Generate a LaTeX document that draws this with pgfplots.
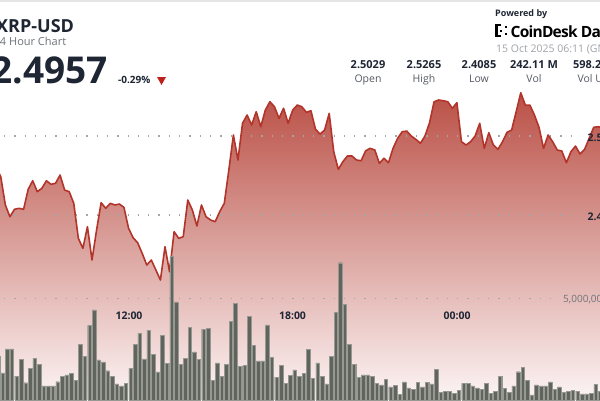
\documentclass[border=0pt]{standalone}
\usepackage{pgfplots}
\pgfplotsset{compat=1.18}
\usepackage{pgfplotstable}
\usepackage{fontspec}
\setmainfont{Open Sans}
\definecolor{navy}{RGB}{30,38,52}
\definecolor{subgray}{RGB}{110,114,120}
\definecolor{dategray}{RGB}{160,163,168}
\definecolor{labgray}{RGB}{85,90,98}
\definecolor{linered}{RGB}{178,52,42}
\definecolor{filltop}{RGB}{186,80,70}
\definecolor{fillbot}{RGB}{252,245,245}
\definecolor{barfill}{RGB}{96,100,92}
\definecolor{baredge}{RGB}{150,152,146}
\definecolor{downred}{RGB}{192,32,28}
\definecolor{dotgray}{RGB}{165,165,165}

\pgfplotstableread{
i price
-29 2.4600
-28 2.4485
-27 2.4127
-26 2.3978
-25 2.4072
-24 2.4085
-23 2.4072
-22 2.4325
-21 2.4434
-20 2.4295
-19 2.4338
-18 2.4434
-17 2.4389
-16 2.4401
-15 2.4506
-14 2.4316
-13 2.4295
-12 2.4148
-11 2.3705
-10 2.3578
-9 2.3852
-8 2.3430
-7 2.3810
-6 2.4156
-5 2.4085
-4 2.4148
-3 2.4127
-2 2.4139
-1 2.4097
0 2.3835
1 2.3713
2 2.3649
3 2.3515
4 2.3367
5 2.3430
6 2.3304
7 2.3177
8 2.3599
9 2.3282
10 2.3789
11 2.3705
12 2.3725
13 2.4190
14 2.4063
15 2.3861
16 2.4127
17 2.3978
18 2.3937
19 2.3915
20 2.4042
21 2.4148
22 2.4570
23 2.5013
24 2.4696
25 2.5161
26 2.5266
27 2.5139
28 2.5308
29 2.5118
30 2.5329
31 2.5434
32 2.5371
33 2.5224
34 2.5351
35 2.5161
36 2.5329
37 2.5392
38 2.5371
39 2.5300
40 2.5320
41 2.5085
42 2.5025
43 2.5076
44 2.5287
45 2.4801
46 2.4578
47 2.4675
48 2.4747
49 2.4747
50 2.4696
51 2.4687
52 2.4814
53 2.4844
54 2.4823
55 2.4654
56 2.4718
57 2.4662
58 2.4844
59 2.4971
60 2.5054
61 2.5063
62 2.5000
63 2.4958
64 2.4908
65 2.5000
66 2.5168
67 2.5434
68 2.5456
69 2.5447
70 2.5434
71 2.5351
72 2.5422
73 2.4928
74 2.4886
75 2.4928
76 2.5000
77 2.5161
78 2.4844
79 2.5042
80 2.4886
81 2.4832
82 2.4928
83 2.5047
84 2.5076
85 2.5308
86 2.5548
87 2.5392
88 2.5392
89 2.5266
90 2.5110
91 2.4844
92 2.5013
93 2.4928
94 2.4823
95 2.4810
96 2.4662
97 2.4801
98 2.4873
99 2.4772
100 2.4832
101 2.4971
102 2.5110
103 2.5118
104 2.5100
}\pricedata

\pgfplotstableread{
i vol
-29 2.16
-28 1.34
-27 2.51
-26 2.51
-25 1.18
-24 2.00
-23 0.85
-22 1.56
-21 2.05
-20 1.76
-19 0.69
-18 0.69
-17 0.69
-16 0.90
-15 1.15
-14 1.23
-13 1.31
-12 0.95
-11 2.74
-10 2.13
-9 3.67
-8 4.43
-7 1.97
-6 1.88
-5 1.44
-4 1.15
-3 0.79
-2 0.69
-1 0.82
0 1.56
1 2.75
2 3.28
3 2.02
4 3.44
5 2.26
6 1.38
7 3.18
8 1.80
9 7.05
10 4.83
11 1.76
12 2.05
13 3.57
14 2.37
15 2.00
16 3.49
17 3.53
18 0.95
19 1.83
20 1.15
21 1.76
22 3.85
23 4.75
24 1.67
25 1.71
26 4.10
27 2.70
28 1.92
29 1.92
30 3.69
31 2.10
32 1.12
33 1.72
34 0.82
35 1.21
36 1.48
37 1.18
38 1.31
39 2.49
40 1.05
41 1.83
42 1.15
43 0.79
44 2.13
45 4.31
46 6.75
47 4.72
48 2.74
49 1.77
50 1.12
51 1.23
52 1.23
53 1.18
54 0.82
55 0.74
56 1.02
57 0.65
58 0.72
59 0.28
60 0.89
61 0.60
62 0.53
63 0.87
64 0.65
65 0.87
66 0.79
67 1.51
68 0.38
69 0.41
70 0.44
71 0.33
72 0.49
73 0.82
74 0.82
75 0.69
76 0.60
77 0.53
78 0.82
79 0.33
80 0.41
81 1.15
82 0.58
83 0.39
84 0.69
85 1.39
86 1.59
87 0.95
88 0.25
89 0.74
90 0.69
91 0.70
92 0.89
93 0.53
94 0.65
95 0.36
96 0.44
97 0.48
98 0.44
99 0.30
100 0.30
101 0.33
102 0.77
103 0.44
}\voldata

\begin{document}
\begin{tikzpicture}[x=1bp,y=1bp]
\useasboundingbox (0,0) rectangle (600,400);
\clip (0,0) rectangle (600,400);
\fill[white] (0,0) rectangle (600,400);

% price axis
\begin{axis}[at={(0,0)}, anchor=south west, scale only axis,
  width=600bp, height=400bp, hide axis,
  xmin=-28.174, xmax=103.377, ymin=2.1658, ymax=2.6722, clip=true]
\addplot[draw=none, top color=filltop, bottom color=fillbot] table[x=i,y=price] {\pricedata} \closedcycle;
\draw[dotgray, line width=1.3bp, dash pattern=on 1.3bp off 9bp] (axis cs:-27.3,2.5) -- (axis cs:99.0,2.5);
\draw[dotgray, line width=1.3bp, dash pattern=on 1.3bp off 9bp] (axis cs:-27.3,2.4) -- (axis cs:99.0,2.4);
\addplot[linered, line width=1.6bp, line join=round] table[x=i,y=price] {\pricedata};
\end{axis}

% volume axis
\begin{axis}[at={(0,0)}, anchor=south west, scale only axis,
  width=600bp, height=400bp, hide axis,
  xmin=-28.174, xmax=103.377, ymin=0, ymax=19.666, clip=true]
\draw[dotgray, line width=1.3bp, dash pattern=on 1.3bp off 9bp] (axis cs:-27.3,5) -- (axis cs:92.9,5);
\addplot[ybar, bar width=3.5bp, bar shift=2bp, fill=barfill, draw=baredge, line width=0.4bp] table[x=i,y=vol] {\voldata};
\end{axis}

% axis labels
\node[anchor=base west, inner sep=0, text=navy, font=\fontsize{10.5bp}{12bp}\selectfont\bfseries] at (587.5,259) {2.50};
\node[anchor=base west, inner sep=0, text=navy, font=\fontsize{10.5bp}{12bp}\selectfont\bfseries] at (587.5,180) {2.40};
\node[anchor=base west, inner sep=0, text=subgray, font=\fontsize{10bp}{12bp}\selectfont] at (563,98) {5,000,000};
\node[anchor=base, inner sep=0, text=navy, font=\fontsize{10.5bp}{12bp}\selectfont\bfseries] at (129,80.7) {12:00};
\node[anchor=base, inner sep=0, text=navy, font=\fontsize{10.5bp}{12bp}\selectfont\bfseries] at (292.5,80.7) {18:00};
\node[anchor=base, inner sep=0, text=navy, font=\fontsize{10.5bp}{12bp}\selectfont\bfseries] at (457,80.7) {00:00};

% header
\fill[black!10] (0,397.5) rectangle (600,400);
\node[anchor=base west, inner sep=0, text=navy, font=\fontsize{18bp}{20bp}\selectfont\bfseries] at (-4,368) {XRP-USD};
\node[anchor=base west, inner sep=0, text=subgray, font=\fontsize{11bp}{13bp}\selectfont] at (-6.5,355) {24 Hour Chart};
\node[anchor=base east, inner sep=0, text=navy, font=\fontsize{37bp}{40bp}\selectfont\bfseries] at (108,317) {2.4957};
\node[anchor=base west, inner sep=0, text=navy, font=\fontsize{10bp}{12bp}\selectfont\bfseries] at (118,317) {-0.29\%};
\fill[downred] (157,323) -- (166,323) -- (161.5,315) -- cycle;

\node[anchor=base west, inner sep=0, text=navy, font=\fontsize{9bp}{11bp}\selectfont\bfseries] at (495,384) {Powered by};
% logo
\fill[black] (495,363) rectangle (497.5,376);
\fill[black] (495,373.5) rectangle (501,376);
\fill[black] (495,363) rectangle (501,365.5);
\fill[black] (499.5,368.5) rectangle (501.5,370.5);
\fill[black] (504.5,372) rectangle (506.5,374);
\fill[black] (504.5,365) rectangle (506.5,367);
\node[anchor=base west, inner sep=0, text=black, font=\fontsize{15.5bp}{19bp}\selectfont\bfseries\addfontfeatures{LetterSpace=-5}] at (510.5,363) {CoinDesk Data};
\node[anchor=base west, inner sep=0, text=dategray, font=\fontsize{10.5bp}{12bp}\selectfont] at (496,348) {15 Oct 2025 06:11 (GMT)};

\foreach \xx/\vv/\ll in {368/2.5029/Open, 424/2.5265/High, 479/2.4085/Low, 534/242.11 M/Vol, 597/598.22 M/Vol USD}{
  \node[anchor=base, inner sep=0, text=navy, font=\fontsize{11bp}{13bp}\selectfont\bfseries] at (\xx,332) {\vv};
  \node[anchor=base, inner sep=0, text=labgray, font=\fontsize{10.5bp}{12bp}\selectfont] at (\xx,318) {\ll};
}
\end{tikzpicture}
\end{document}
